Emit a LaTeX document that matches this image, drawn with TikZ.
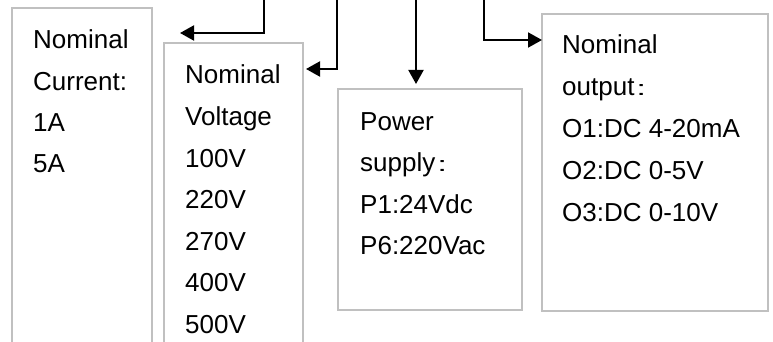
\documentclass[tikz,border=0pt]{standalone}
\usepackage{fontspec}
\setmainfont{Liberation Sans}
\usetikzlibrary{arrows.meta}
\definecolor{boxgray}{HTML}{C0C0C0}
\newcommand{\wcolon}{\hspace{2pt}\scalebox{1.35}[0.8]{:}\hspace{6pt}}
\tikzset{
  boxst/.style={draw=boxgray, line width=1.6pt, inner sep=0pt, outer sep=0pt, anchor=north west},
  txt/.style={anchor=base west, inner sep=0pt, font=\fontsize{26}{30}\selectfont},
  conn/.style={draw=black, line width=2pt, -{Triangle[length=14pt,width=15pt]}}
}
\begin{document}
\begin{tikzpicture}[x=1pt,y=-1pt]
\clip (0,0) rectangle (773,342);
\fill[white] (0,0) rectangle (773,342);
% boxes
\node[boxst, minimum width=140pt, minimum height=360pt] (b1) at (12,8) {};
\node[boxst, minimum width=139pt, minimum height=330pt] (b2) at (164,43) {};
\node[boxst, minimum width=184pt, minimum height=221pt] (b3) at (338,89) {};
\node[boxst, minimum width=226pt, minimum height=297pt] (b4) at (542,14) {};
% texts
\foreach \t [count=\i] in {Nominal, Current:, 1A, 5A}
  \node[txt] (c\i) at (33, 49+41.3*\i-41.3) {\t};
\foreach \t [count=\i] in {Nominal, Voltage, 100V, 220V, 270V, 400V, 500V}
  \node[txt] (v\i) at (185, 84+41.5*\i-41.5) {\t};
\foreach \t [count=\i] in {Power, supply\wcolon, P1:24Vdc, P6:220Vac}
  \node[txt] (p\i) at (360, 130+41.6*\i-41.6) {\t};
\foreach \t [count=\i] in {Nominal, output\wcolon, O1:DC 4-20mA, O2:DC 0-5V, O3:DC 0-10V}
  \node[txt] (o\i) at (562, 54+41.9*\i-41.9) {\t};
% connector ends
\coordinate (s1) at (264,-2);
\coordinate (s2) at (337,-2);
\coordinate (s3) at (416,-2);
\coordinate (s4) at (484,-2);
\coordinate (e1) at (180,33);
\coordinate (e2) at (306,69);
\coordinate (e3) at (416,84);
\path[conn] (s1) |- (e1);
\path[conn] (s2) |- (e2);
\path[conn] (s3) -- (e3);
\path[conn] (s4) |- (b4.west |- 0,40);
\end{tikzpicture}
\end{document}
